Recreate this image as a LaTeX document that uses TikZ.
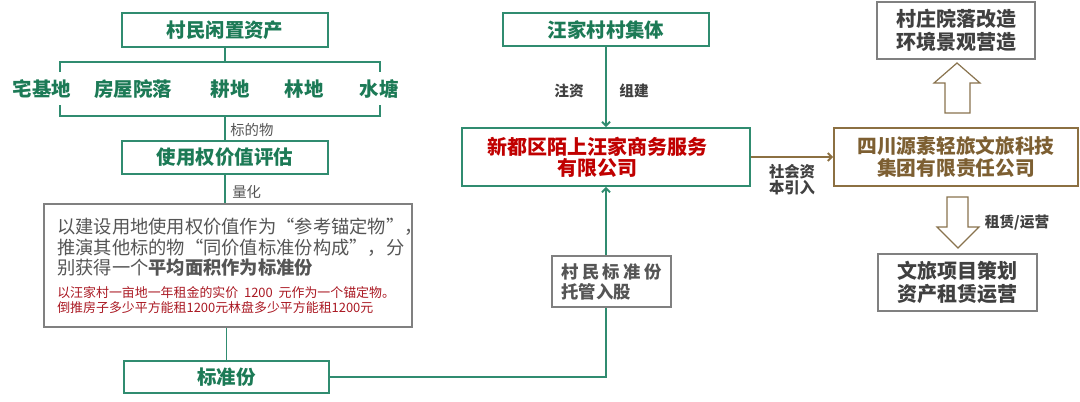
\documentclass[tikz,border=0pt]{standalone}
\usepackage{fontspec}
\setmainfont{Noto Sans CJK SC}
\usetikzlibrary{arrows.meta}
\definecolor{lgreen}{RGB}{48,140,112}
\definecolor{tgreen}{RGB}{28,122,86}
\definecolor{tred}{RGB}{192,0,0}
\definecolor{tdred}{RGB}{170,25,35}
\definecolor{lbrown}{RGB}{140,112,66}
\definecolor{tbrown}{RGB}{125,95,50}
\definecolor{lgray}{RGB}{128,128,128}
\definecolor{tgray}{RGB}{85,85,85}
\definecolor{tdark}{RGB}{64,64,64}
\begin{document}
\begin{tikzpicture}[x = 0.75pt, y = -0.75pt,
	gbox/.style = {draw = lgreen, line width = 1.4pt, inner sep = 0pt, text = tgreen, font = \fontsize{14.6}{17}\selectfont\bfseries},
	graybox/.style = {draw = lgray, line width = 1.1pt, inner sep = 0pt, align = center, text = tdark, font = \fontsize{15}{17}\selectfont\bfseries},
	item/.style = {inner sep = 0pt, text = tgreen, font = \fontsize{14.6}{17}\selectfont\bfseries},
	lbl/.style = {inner sep = 0pt, text = tgray, font = \fontsize{10.8}{12}\selectfont},
	blbl/.style = {inner sep = 0pt, text = tdark, align = center, font = \fontsize{11}{12}\selectfont\bfseries},
	gline/.style = {draw = lgreen, line width = 1.4pt},
	garrow/.style = {gline, -{Straight Barb[length = 3pt, width = 6pt]}},
	barrow/.style = {draw = lbrown, line width = 1.4pt, -{Straight Barb[length = 3pt, width = 6pt]}},
	hollow/.style = {draw = lbrown!80!gray, line width = 0.9pt, fill = white, line join = miter}]
	
	\useasboundingbox (0,0) rectangle (1080,401);
	
	% left column
	\node[gbox, minimum width = 154.5pt, minimum height = 25.5pt] (assets) at (225, 30) {村民闲置资产};
	
	\node[item] (zjd) at (42, 89) {宅基地};
	\node[item] (fwyl) at (133, 89) {房屋院落};
	\node[item] (gd) at (230, 89) {耕地};
	\node[item] (ld) at (304, 89) {林地};
	\node[item] (st) at (379, 89) {水塘};
	
	\coordinate (btopl) at (60, 62);
	\coordinate (btopr) at (380, 62);
	\coordinate (bbotl) at (60, 116);
	\coordinate (bbotr) at (380, 116);
	\draw[gline] (60, 72) -- (btopl) -- (btopr) -- (380, 72);
	\draw[gline] (60, 105) -- (bbotl) -- (bbotr) -- (380, 105);
	\draw[gline] (assets.south) -- (assets.south |- btopl);
	
	\node[gbox, minimum width = 154.5pt, minimum height = 24.75pt] (eval) at (225, 157.5) {使用权价值评估};
	\draw[gline] (eval.north |- bbotl) -- (eval.north);
	\node[lbl, anchor = west] (lblbdw) at (230, 130) {标的物};
	
	\node[draw = lgray, line width = 1.1pt, minimum width = 276pt, minimum height = 92.25pt] (desc) at (228, 265.5) {};
	\draw[gline] (eval.south) -- (eval.south |- desc.north);
	\node[lbl, anchor = west] (lbllh) at (232, 192) {量化};
	
	\node[anchor = west, inner sep = 0pt, text = tgray, font = \fontsize{13.7}{15}\selectfont] (desca) at (57, 227) {以建设用地使用权价值作为“参考锚定物”，};
	\node[anchor = west, inner sep = 0pt, text = tgray, font = \fontsize{13.7}{15}\selectfont] (descb) at (57, 248) {推演其他标的物“同价值标准份构成”，分};
	\node[anchor = west, inner sep = 0pt, text = tgray, font = \fontsize{13.7}{15}\selectfont] (descc) at (57, 268) {别获得一个\textbf{平均面积作为标准份}};
	\node[anchor = west, inner sep = 0pt, text = tdred, font = \fontsize{9.7}{11}\selectfont] (descd) at (57, 293) {以汪家村一亩地一年租金的实价\ \ 1200\ \ 元作为一个锚定物。};
	\node[anchor = west, inner sep = 0pt, text = tdred, font = \fontsize{9.7}{11}\selectfont] (desce) at (57, 308) {倒推房子多少平方能租1200元林盘多少平方能租1200元};
	
	\node[gbox, minimum width = 153.75pt, minimum height = 24pt] (std) at (226.5, 377) {标准份};
	\draw[gline] (std.north |- desc.south) -- (std.north);
	
	% middle column
	\node[gbox, minimum width = 154.5pt, minimum height = 24.75pt] (village) at (606, 29.5) {汪家村村集体};
	\node[draw = lgreen, line width = 1.4pt, inner sep = 0pt, minimum width = 216pt, minimum height = 43.5pt, align = center, text = tred, font = \fontsize{15}{16}\selectfont\bfseries] (company) at (606, 157) {新都区陌上汪家商务服务\hspace*{13pt}\\有限公司\hspace*{13pt}};
	\draw[garrow] (village.south) -- (company.north);
	\node[blbl] (lblzz) at (569, 91) {注资};
	\node[blbl] (lblzj) at (634, 91) {组建};
	
	\draw[garrow] (std.east) -| (company.south);
	\node[graybox, fill = white, align = left, text = tgray, minimum width = 89.25pt, minimum height = 38.25pt, font = \fontsize{13}{15}\selectfont\bfseries] (share) at (611.5, 281.5) {村\hspace{2.5pt}民\hspace{2.5pt}标\hspace{2.5pt}准\hspace{2.5pt}份\\托管入股};
	
	% right column
	\node[draw = lbrown, line width = 1.4pt, inner sep = 0pt, minimum width = 183pt, minimum height = 43.5pt, align = center, text = tbrown, font = \fontsize{14.8}{17}\selectfont\bfseries] (group) at (956, 157) {四川源素轻旅文旅科技\\集团有限责任公司};
	\draw[barrow] (company.east) -- (group.west);
	\node[blbl, font = \fontsize{11.5}{12}\selectfont\bfseries] (lblshzb) at (792, 180) {社会资\\本引入};
	
	\node[graybox, minimum width = 118.5pt, minimum height = 42.75pt] (renov) at (956, 30.5) {村庄院落改造\\环境景观营造};
	\node[graybox, minimum width = 119.25pt, minimum height = 42.75pt] (ops) at (957.5, 282.5) {文旅项目策划\\资产租赁运营};
	
	\draw[hollow] (945, 113) -- (945, 83) -- (934, 83) -- (957, 63) -- (980, 83) -- (970, 83) -- (970, 113) -- cycle;
	\draw[hollow] (947, 197) -- (947, 227) -- (937, 227) -- (958, 248) -- (979, 227) -- (968, 227) -- (968, 197) -- cycle;
	\node[blbl] (lblzl) at (1017, 223) {租赁/运营};
\end{tikzpicture}
\end{document}
